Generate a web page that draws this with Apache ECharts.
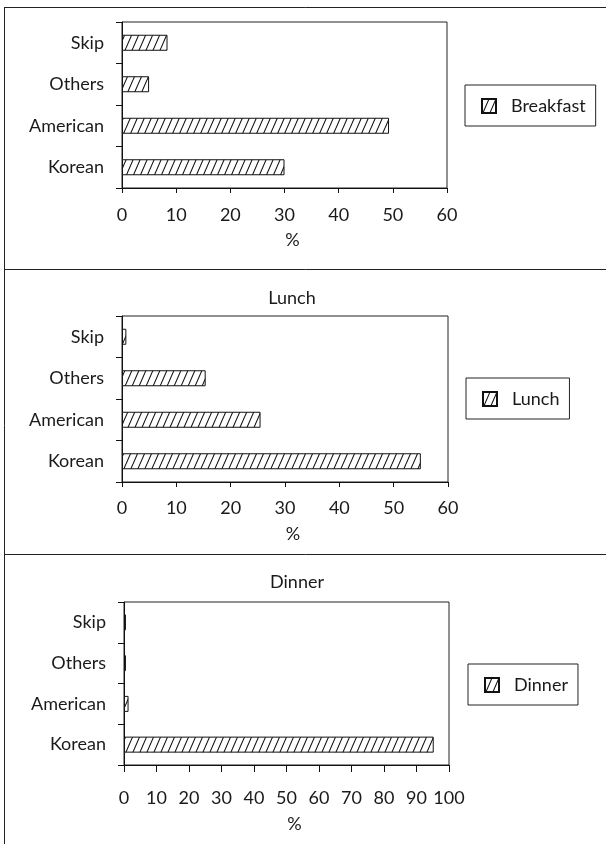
<!DOCTYPE html>
<html>
<head>
<meta charset="utf-8">
<script src="https://cdn.jsdelivr.net/npm/echarts@6/dist/echarts.min.js"></script>
<style>
  html, body { margin: 0; padding: 0; background: #fff; }
  #chart { width: 606px; height: 844px; }
</style>
</head>
<body>
<div id="chart"></div>
<script>
// Meal choices, share of respondents (%)
const categories = ['Korean', 'American', 'Others', 'Skip'];
const breakfast = [30, 49.3, 5, 8.4];
const lunch = [55, 25.5, 15.4, 0.8];
const dinner = [95.3, 1.4, 0.6, 0.6];
const seriesNames = ['Breakfast', 'Lunch', 'Dinner'];
const panelTitles = ['', 'Lunch', 'Dinner'];
const axisMax = [60, 60, 100];
const axisStep = [10, 10, 10];

// Diagonal hatch fill used for all bars
function hatchPattern() {
  const w = 7, h = 16;
  const c = document.createElement('canvas');
  c.width = w; c.height = h;
  const g = c.getContext('2d');
  g.fillStyle = '#fff';
  g.fillRect(0, 0, w, h);
  g.strokeStyle = '#111';
  g.lineWidth = 1.1;
  g.beginPath();
  for (let k = -1; k <= 1; k++) {
    g.moveTo(k * w, h);
    g.lineTo(k * w + w, 0);
  }
  g.stroke();
  return { image: c, repeat: 'repeat' };
}
const hatch = hatchPattern();

const FONT = 'Lato';
const FS = 18;
const TXT = '#1a1a1a';

// Panel geometry
const grids = [
  { left: 122, right: 159, top: 22, height: 166 },
  { left: 122, right: 158, top: 316, height: 166 },
  { left: 124, right: 157, top: 602, height: 163 }
];
const labelMargins = [18, 17, 24];
const nameGaps = [43, 43, 50];
const tickLens = [5, 5, 7];
const legendBoxes = [
  { left: 465, top: 85, width: 132 },
  { left: 466, top: 378, width: 129 },
  { left: 468, top: 664, width: 129 }
];
const titleY = [0, 284, 568];
const titleX = [0, 287, 292];

const series = [
  breakfast, lunch, dinner
].map((vals, i) => ({
  name: seriesNames[i],
  type: 'bar',
  xAxisIndex: i,
  yAxisIndex: i,
  data: vals,
  barWidth: 16,
  itemStyle: { color: hatch, borderColor: '#111', borderWidth: 1 },
  emphasis: { disabled: true },
  silent: true
}));

const legends = seriesNames.map((name, i) => {
  const padL = 16;
  const padR = 10;
  const textW = legendBoxes[i].width - padL - 14 - 5 - 10 - padR;
  return {
    data: [{ name: name, icon: 'rect' }],
    left: legendBoxes[i].left,
    top: legendBoxes[i].top,
    orient: 'horizontal',
    padding: [12, padR, 11, padL],
    borderColor: '#222',
    borderWidth: 1,
    itemWidth: 14,
    itemHeight: 14,
    selectedMode: false,
    formatter: '{g|}{a|{name}}',
    textStyle: {
      fontFamily: FONT,
      fontSize: FS,
      color: TXT,
      rich: {
        g: { width: 10 },
        a: { width: textW, fontFamily: FONT, fontSize: FS, color: TXT }
      }
    }
  };
});

const titles = panelTitles.map((t, i) => ({
  text: t,
  left: titleX[i],
  top: titleY[i],
  textAlign: 'center',
  textStyle: { fontFamily: FONT, fontSize: FS, fontWeight: 'normal', color: TXT }
}));

const xAxes = grids.map((g, i) => ({
  type: 'value',
  gridIndex: i,
  min: 0,
  max: axisMax[i],
  interval: axisStep[i],
  name: '%',
  nameLocation: 'middle',
  nameGap: nameGaps[i],
  nameTextStyle: { fontFamily: FONT, fontSize: FS, color: TXT, padding: [0, 0, 0, 16] },
  axisLine: { show: true, lineStyle: { color: '#111', width: 1 } },
  axisTick: { show: true, length: tickLens[i], lineStyle: { color: '#111' } },
  axisLabel: { margin: labelMargins[i], fontFamily: FONT, fontSize: FS, color: TXT },
  splitLine: { show: false }
}));

const yAxes = grids.map((g, i) => ({
  type: 'category',
  gridIndex: i,
  data: categories,
  axisLine: { show: true, lineStyle: { color: '#111', width: 1 } },
  axisTick: { show: true, length: 6, lineStyle: { color: '#111' } },
  axisLabel: { margin: 18, fontFamily: FONT, fontSize: FS, color: TXT },
  splitLine: { show: false }
}));

// Outer frame and panel separators
const frame = [
  { x1: 4.5, y1: 7, x2: 4.5, y2: 844 },
  { x1: 4.5, y1: 7.5, x2: 606, y2: 7.5 },
  { x1: 4.5, y1: 269.5, x2: 606, y2: 269.5 },
  { x1: 4.5, y1: 554.5, x2: 606, y2: 554.5 }
].map(s => ({
  type: 'line',
  shape: s,
  style: { stroke: '#222', lineWidth: 1 },
  silent: true
}));

const chart = echarts.init(document.getElementById('chart'), null, { renderer: 'canvas' });
chart.setOption({
  animation: false,
  backgroundColor: '#fff',
  title: titles,
  legend: legends,
  grid: grids.map(g => Object.assign({ show: true, borderColor: '#222', borderWidth: 1, backgroundColor: 'transparent' }, g)),
  xAxis: xAxes,
  yAxis: yAxes,
  series: series,
  graphic: frame
});
</script>
</body>
</html>
